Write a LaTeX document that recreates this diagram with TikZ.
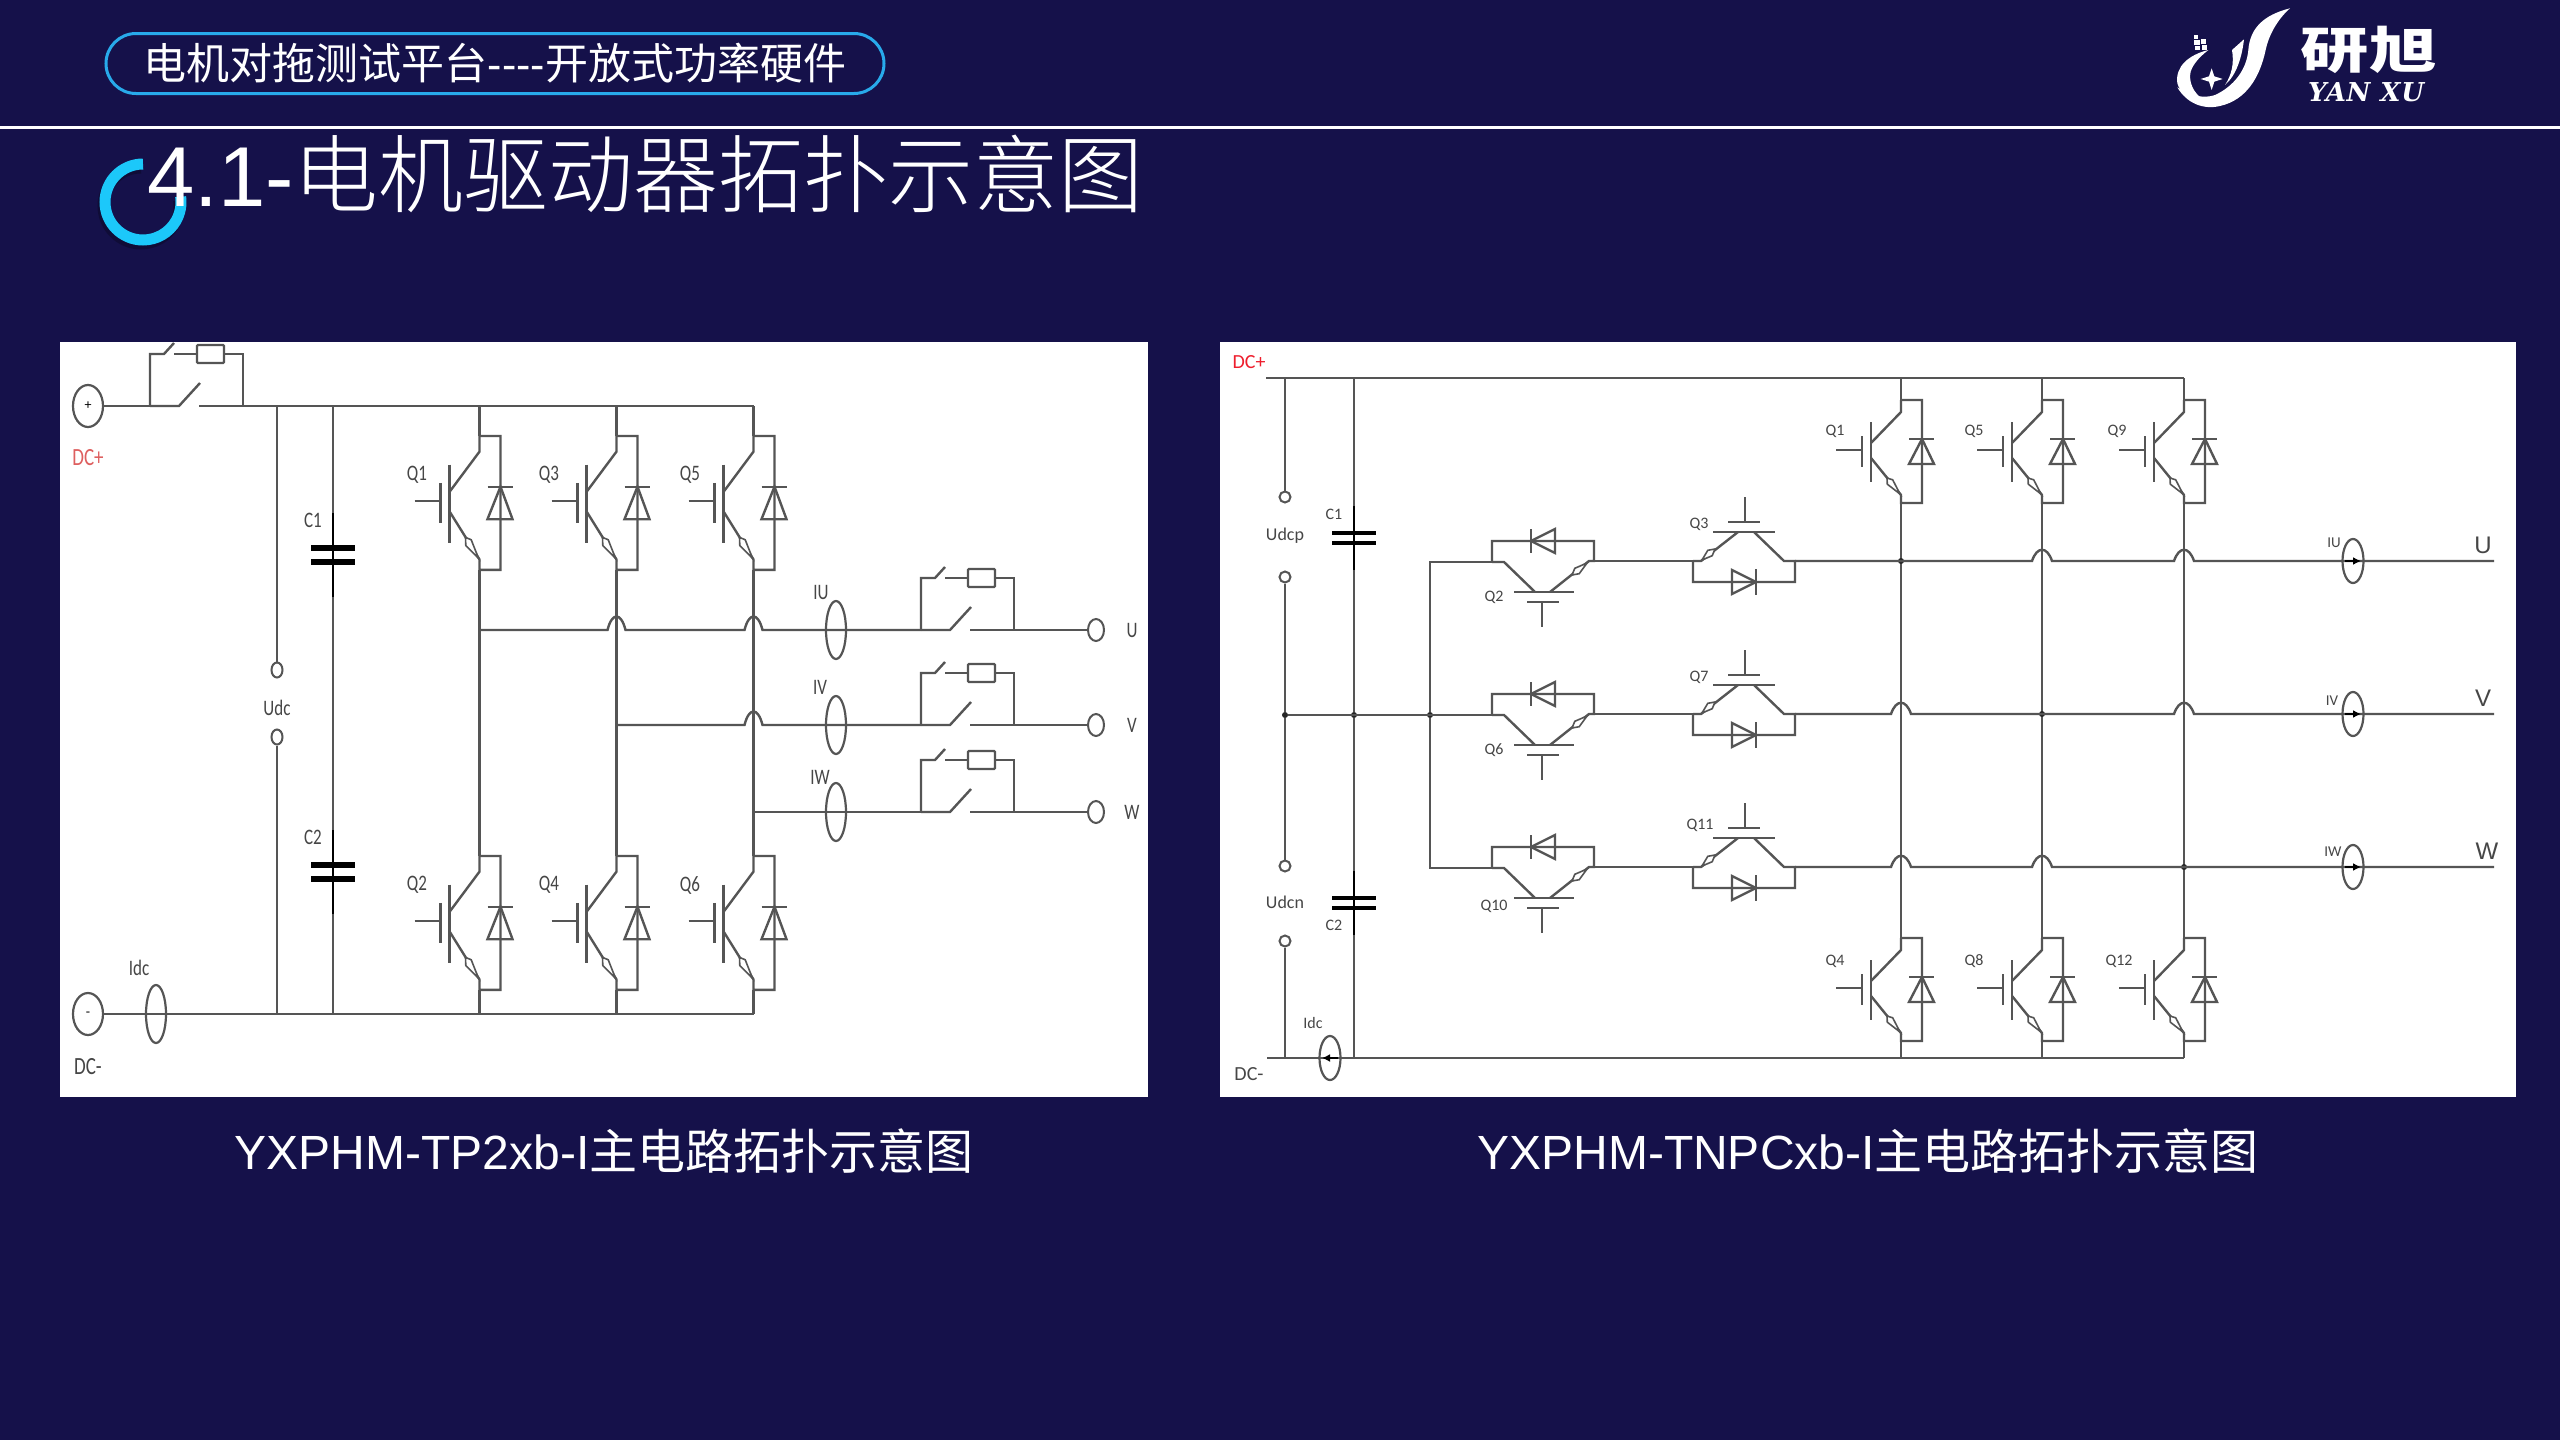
\documentclass[tikz,border=0pt]{standalone}
\usepackage{fontspec}
\setmainfont{Liberation Sans}
\newfontfamily\cjk{Noto Sans CJK SC}
\newfontfamily\cjklight[UprightFont={* Light}]{Noto Sans CJK SC}
\newfontfamily\labfont{Carlito}
\newfontfamily\logofont[LetterSpace=3]{DejaVu Serif}
\usetikzlibrary{arrows.meta, shapes.geometric, positioning}
\definecolor{navy}{RGB}{21,17,74}
\definecolor{ringblue}{RGB}{28,200,250}
\definecolor{tagblue}{RGB}{40,170,235}
\definecolor{wiregray}{RGB}{85,85,85}
\definecolor{labgray}{RGB}{70,70,70}
\definecolor{softred}{RGB}{222,95,95}
\definecolor{hardred}{RGB}{238,30,45}
\newcommand{\fs}[1]{\fontsize{#1}{#1}\selectfont}
\newcommand{\hop}[4]{-- (#1-#3,#2) .. controls (#1-#3/2,#2-#4) and (#1+#3/2,#2-#4) .. (#1+#3,#2)}
\tikzset{
	wire/.style={draw=wiregray, line width=2.4pt},
	lab/.style={font=\labfont\fs{17}, text=labgray, inner sep=0pt},
	tall/.style={yscale=1.3, transform shape},
	term/.style={draw=wiregray, line width=2.2pt, ellipse, fill=white, inner sep=0pt, minimum width=30pt, minimum height=42pt, font=\labfont\fs{14}, text=black},
	pin/.style={draw=wiregray, line width=2pt, ellipse, fill=white, inner sep=0pt, minimum width=11pt, minimum height=#1},
	ct/.style={draw=wiregray, line width=2.2pt, ellipse, inner sep=0pt, minimum width=20pt, minimum height=#1},
	dot/.style={circle, fill=black!85, inner sep=0pt, minimum size=6pt},
	sense/.style={draw=black, line width=2pt, -{Latex[length=8pt,width=8pt]}},
	caption/.style={text=white, font=\fs{48}, inner sep=0pt},
	pics/igbt/.style={code={
		\begin{scope}[yscale=#1]
		\coordinate (-c) at (0,0);
		\coordinate (-e) at (0,103);
		\draw[wire] (0,0) -- (21,0) -- (21,103) -- (0,103) -- (0,95) -- (-30,58);
		\draw[wire] (0,0) -- (0,12) -- (-30,43);
		\draw[wire] (-30,22) -- (-30,82);
		\draw[wire] (-39,36) -- (-39,67);
		\draw[wire] (-65,50) -- (-39,50);
		\draw[wire] (8,39) -- (33,39);
		\draw[wire] (21,39) -- (33,64) -- (8,64) -- cycle;
		\draw[wire, line width=1.6pt, fill=white] (-1,94) -- (-8.3,79.8) -- (-14,78) -- (-13.7,84.2) -- cycle;
		\end{scope}
	}},
	pics/igbtdown/.style={code={
		\coordinate (-l) at (0,0);
		\coordinate (-r) at (102,-1);
		\draw[wire] (0,0) -- (0,-21) -- (102,-21) -- (102,-1) -- (97,-1) -- (58,30);
		\draw[wire] (0,0) -- (12,0) -- (43,30);
		\draw[wire] (22,30) -- (82,30);
		\draw[wire] (35,40) -- (67,40);
		\draw[wire] (50,40) -- (50,65);
		\draw[wire] (39,-33) -- (39,-9);
		\draw[wire] (39,-21) -- (63,-33) -- (63,-9) -- cycle;
		\draw[wire, line width=1.6pt, fill=white] (95,1) -- (87.2,11.7) -- (80,13) -- (82.8,6.3) -- cycle;
	}},
	pics/igbtup/.style={code={
		\coordinate (-l) at (0,0);
		\coordinate (-r) at (102,0);
		\draw[wire] (0,0) -- (0,21) -- (102,21) -- (102,0) -- (91,0) -- (61,-29);
		\draw[wire] (0,0) -- (8,0) -- (45,-29);
		\draw[wire] (20,-29) -- (82,-29);
		\draw[wire] (35,-39) -- (67,-39);
		\draw[wire] (52,-39) -- (52,-64);
		\draw[wire] (63,8) -- (63,34);
		\draw[wire] (39,9) -- (63,21) -- (39,33) -- cycle;
		\draw[wire, line width=1.6pt, fill=white] (9,-1) -- (14.8,-10.7) -- (22,-12) -- (19.2,-5.3) -- cycle;
	}},
	pics/capv/.style={code={
		\begin{scope}[yscale=#1]
		\coordinate (-a) at (0,-32);
		\coordinate (-b) at (0,32);
		\draw[line width=2.6pt, black] (0,-32) -- (0,32);
		\fill[black] (-22,-7.4) rectangle (22,-3);
		\fill[black] (-22,3) rectangle (22,7.4);
		\end{scope}
	}},
	pics/swres/.style={code={
		\coordinate (-a) at (0,0);
		\coordinate (-b) at (93,0);
		\draw[wire] (0,0) -- (29,0) -- (50,-23);
		\draw[wire] (49,0) -- (93,0) -- (93,-52) -- (74,-52);
		\draw[wire] (0,0) -- (0,-52) -- (14,-52) -- (24,-63);
		\draw[wire] (24,-52) -- (47,-52);
		\draw[wire, rounded corners=1pt] (47,-61) rectangle (74,-43);
	}}
}
\begin{document}
\begin{tikzpicture}[x=1pt,y=-1pt,on grid]
\useasboundingbox (0,0) rectangle (2560,1440);
\fill[navy] (0,0) rectangle (2560,1440);
\fill[white] (60,342) rectangle (1148,1097);
\fill[white] (1220,342) rectangle (2516,1097);

% header
\draw[white, line width=3pt] (0,127) -- (2560,127);
\node[draw=tagblue, line width=3pt, rounded corners=30pt, minimum width=778pt, minimum height=60pt, text=white, font=\fs{43}, inner sep=0pt] (tag) at (495,63.5) {{\cjk 电机对拖测试平台}-{}-{}-{}-{\cjk 开放式功率硬件}};
\draw[black, opacity=.25, line width=11pt] (141,168) arc[start angle=90, end angle=368, x radius=38, y radius=-38];
\draw[ringblue, line width=11pt] (143,164) arc[start angle=90, end angle=368, x radius=38, y radius=-38];
\node[text=white, font=\fs{85}, anchor=west, inner sep=0pt] (title) at (147,174) {4.1-{\cjklight 电机驱动器拓扑示意图}};

% logo
\begin{scope}[shift={(2100,0)},x=0.3333pt,y=-0.3333pt]
\fill[white] (570,25) .. controls (490,45) and (450,85) .. (445,150) .. controls (440,210) and (400,260) .. (345,285) .. controls (300,300) and (265,280) .. (232,262) .. controls (260,310) and (310,330) .. (360,318) .. controls (440,300) and (480,230) .. (497,150) .. controls (505,110) and (530,60) .. (570,25) -- cycle;
\fill[white] (325,150) .. controls (265,165) and (225,200) .. (232,250) .. controls (240,280) and (270,295) .. (310,298) .. controls (280,280) and (265,245) .. (272,215) .. controls (280,190) and (300,170) .. (325,150) -- cycle;
\fill[white] (432,118) -- (396,150) .. controls (403,190) and (395,225) .. (375,255) .. controls (410,225) and (426,170) .. (432,118) -- cycle;
\fill[white] (335,205) -- (343,229) -- (368,237) -- (343,245) -- (335,270) -- (327,245) -- (302,237) -- (327,229) -- cycle;
\fill[white] (283,120) rectangle (299,134);
\fill[white] (303,118) rectangle (318,132);
\fill[white] (286,137) rectangle (301,151);
\fill[white] (305,135) rectangle (322,149);
\fill[white] (281,105) rectangle (294,117);
\end{scope}
\node[text=white, font=\cjk\bfseries\fs{62}, inner sep=0pt, xscale=1.1, yscale=.8, transform shape] (logocn) at (2369,50) {研旭};
\node[text=white, font=\logofont\bfseries\itshape\fs{26}, inner sep=0pt] (logoen) at (2366,92) {YAN XU};

% left circuit
\node[term] (dcp) at (88,406) {+};
\node[term] (dcm) at (88,1014) {-};
\node[lab, font=\labfont\fs{19}, tall, text=softred, below=52pt of dcp] (dcpl) {DC+};
\node[lab, font=\labfont\fs{19}, tall, below=53pt of dcm] (dcml) {DC-};
\pic (SD) at (150,406) {swres};
\coordinate (pe) at (753.5,406);
\coordinate (me) at (753.5,1014);
\path[wire] (dcp) edge (SD-a)
	(SD-b) edge (pe)
	(dcm) edge (me);

\node[pin=15pt] (udc1) at (277,670) {};
\node[pin=15pt] (udc2) at (277,737) {};
\node[lab, tall] (udcl) at (277,708) {Udc};
\path[wire] (udc1 |- pe) edge (udc1)
	(udc2) edge (udc2 |- me);
\pic (C1) at (333,555) {capv=1.3};
\pic (C2) at (333,872) {capv=1.3};
\path[wire] (C1-a |- pe) edge (C1-a)
	(C1-b) edge (C2-a)
	(C2-b) edge (C2-b |- me);
\node[lab, tall] (c1l) at (313,520) {C1};
\node[lab, tall] (c2l) at (313,837) {C2};

\pic (Q1) at (479.5,436) {igbt=1.3};
\pic (Q3) at (616.5,436) {igbt=1.3};
\pic (Q5) at (753.5,436) {igbt=1.3};
\pic (Q2) at (479.5,856) {igbt=1.3};
\pic (Q4) at (616.5,856) {igbt=1.3};
\pic (Q6) at (753.5,856) {igbt=1.3};
\path[wire] (Q1-c) edge (Q1-c |- pe)
	(Q3-c) edge (Q3-c |- pe)
	(Q5-c) edge (pe)
	(Q1-e) edge (Q2-c)
	(Q3-e) edge (Q4-c)
	(Q5-e) edge (Q6-c)
	(Q2-e) edge (Q2-e |- me)
	(Q4-e) edge (Q4-e |- me)
	(Q6-e) edge (me);
\node[lab, tall] (q1l) at (417,475) {Q1};
\node[lab, tall] (q3l) at (549,475) {Q3};
\node[lab, tall] (q5l) at (690,475) {Q5};
\node[lab, tall] (q2l) at (417,885) {Q2};
\node[lab, tall] (q4l) at (549,885) {Q4};
\node[lab, tall] (q6l) at (690,885) {Q6};

\node[ct=58pt] (idcl) at (156,1014) {};
\node[lab, tall] (idcn) at (139,968) {Idc};

\coordinate (lu0) at (479.5,630);
\coordinate (lv0) at (616.5,725);
\coordinate (lw0) at (753.5,812);
\pic (SU) at (921,630) {swres};
\pic (SV) at (921,725) {swres};
\pic (SW) at (921,812) {swres};
\node[pin=22pt, minimum width=16pt] (ut1) at (1096,630) {};
\node[pin=22pt, minimum width=16pt] (vt1) at (1096,725) {};
\node[pin=22pt, minimum width=16pt] (wt1) at (1096,812) {};
\node[lab, tall, right=36pt of ut1] (ut1l) {U};
\node[lab, tall, right=36pt of vt1] (vt1l) {V};
\node[lab, tall, right=36pt of wt1] (wt1l) {W};
\draw[wire] (lu0) \hop{616.5}{630}{9}{18} \hop{753.5}{630}{9}{18} -- (SU-a);
\draw[wire] (lv0) \hop{753.5}{725}{9}{18} -- (SV-a);
\draw[wire] (lw0) -- (SW-a);
\path[wire] (SU-b) edge (ut1)
	(SV-b) edge (vt1)
	(SW-b) edge (wt1);
\node[ct=58pt] (iu1) at (836,630) {};
\node[ct=58pt] (iv1) at (836,725) {};
\node[ct=58pt] (iw1) at (836,812) {};
\node[lab, tall] (iu1l) at (821,592) {IU};
\node[lab, tall] (iv1l) at (820,687) {IV};
\node[lab, tall] (iw1l) at (820,777) {IW};

% right circuit
\coordinate (ps) at (1266,378);
\coordinate (pr) at (2184,378);
\coordinate (ms) at (1267,1058);
\coordinate (mr) at (2184,1058);
\node[lab, font=\labfont\fs{20}, text=hardred] (dcpr) at (1249,362) {DC+};
\node[lab, font=\labfont\fs{20}] (dcmr) at (1249,1074) {DC-};
\path[wire] (ps) edge (pr)
	(ms) edge (mr);

\node[dot] (n1) at (1285,715) {};
\node[dot] (n2) at (1354,715) {};
\node[dot] (n3) at (1430,715) {};
\node[pin=11pt] (up1) at (1285,497) {};
\node[pin=11pt] (up2) at (1285,577) {};
\node[pin=11pt] (un1) at (1285,866) {};
\node[pin=11pt] (un2) at (1285,941) {};
\node[lab, font=\labfont\fs{18}] (upl) at (1285,536) {Udcp};
\node[lab, font=\labfont\fs{18}] (unl) at (1285,902) {Udcn};
\path[wire] (up1 |- ps) edge (up1)
	(up2) edge (n1)
	(n1) edge (un1)
	(un2) edge (un2 |- ms);
\pic (C1r) at (1354,538) {capv=1};
\pic (C2r) at (1354,903) {capv=1};
\path[wire] (C1r-a |- ps) edge (C1r-a)
	(C1r-b) edge (n2)
	(n2) edge (C2r-a)
	(C2r-b) edge (C2r-b |- ms);
\node[lab, font=\labfont\fs{16}] (c1rl) at (1334,514) {C1};
\node[lab, font=\labfont\fs{16}] (c2rl) at (1334,925) {C2};

\pic (T2) at (1492,562) {igbtdown};
\pic (T6) at (1492,715) {igbtdown};
\pic (T10) at (1492,868) {igbtdown};
\pic (T3) at (1693,561) {igbtup};
\pic (T7) at (1693,714) {igbtup};
\pic (T11) at (1693,867) {igbtup};
\node[lab, font=\labfont\fs{16}] (t2l) at (1494,597) {Q2};
\node[lab, font=\labfont\fs{16}] (t6l) at (1494,750) {Q6};
\node[lab, font=\labfont\fs{16}] (t10l) at (1494,906) {Q10};
\node[lab, font=\labfont\fs{16}] (t3l) at (1699,524) {Q3};
\node[lab, font=\labfont\fs{16}] (t7l) at (1699,677) {Q7};
\node[lab, font=\labfont\fs{16}] (t11l) at (1700,825) {Q11};
\draw[wire] (T2-l) -| (n3) -- (n3 |- T10-l) -- (T10-l);
\path[wire] (n1) edge (T6-l)
	(T2-r) edge (T3-l)
	(T6-r) edge (T7-l)
	(T10-r) edge (T11-l);

\pic (T1) at (1901,400) {igbt=1};
\pic (T5) at (2042,400) {igbt=1};
\pic (T9) at (2184,400) {igbt=1};
\pic (T4) at (1901,938) {igbt=1};
\pic (T8) at (2042,938) {igbt=1};
\pic (T12) at (2184,938) {igbt=1};
\path[wire] (T1-c) edge (T1-c |- ps)
	(T5-c) edge (T5-c |- ps)
	(T9-c) edge (pr)
	(T1-e) edge (T4-c)
	(T5-e) edge (T8-c)
	(T9-e) edge (T12-c)
	(T4-e) edge (T4-e |- ms)
	(T8-e) edge (T8-e |- ms)
	(T12-e) edge (mr);
\node[lab, font=\labfont\fs{16}] (t1l) at (1835,431) {Q1};
\node[lab, font=\labfont\fs{16}] (t5l) at (1974,431) {Q5};
\node[lab, font=\labfont\fs{16}] (t9l) at (2117,431) {Q9};
\node[lab, font=\labfont\fs{16}] (t4l) at (1835,961) {Q4};
\node[lab, font=\labfont\fs{16}] (t8l) at (1974,961) {Q8};
\node[lab, font=\labfont\fs{16}] (t12l) at (2119,961) {Q12};

\node[dot] (du) at (1901,561) {};
\node[dot] (dv) at (2042,714) {};
\node[dot] (dw) at (2184,867) {};
\coordinate (ut2) at (2494,561);
\coordinate (vt2) at (2494,714);
\coordinate (wt2) at (2494,867);
\draw[wire] (T3-r) \hop{2042}{561}{10}{15} \hop{2184}{561}{10}{15} -- (ut2);
\draw[wire] (T7-r) \hop{1901}{714}{10}{15} \hop{2184}{714}{10}{15} -- (vt2);
\draw[wire] (T11-r) \hop{1901}{867}{10}{15} \hop{2042}{867}{10}{15} -- (wt2);

\node[ct=44pt, minimum width=21pt] (iu2) at (2353,561) {};
\node[ct=44pt, minimum width=21pt] (iv2) at (2353,714) {};
\node[ct=44pt, minimum width=21pt] (iw2) at (2353,867) {};
\node[ct=44pt, minimum width=21pt] (idcr) at (1330,1058) {};
\draw[sense] (iu2.center) ++(-8,0) -- ++(16,0);
\draw[sense] (iv2.center) ++(-8,0) -- ++(16,0);
\draw[sense] (iw2.center) ++(-8,0) -- ++(16,0);
\draw[sense] (idcr.center) ++(8,0) -- ++(-16,0);
\node[lab, font=\labfont\fs{15}] (iu2l) at (2334,543) {IU};
\node[lab, font=\labfont\fs{15}] (iv2l) at (2332,701) {IV};
\node[lab, font=\labfont\fs{15}] (iw2l) at (2333,852) {IW};
\node[lab, font=\labfont\fs{16}] (idcrl) at (1313,1023) {Idc};
\node[lab, font=\fs{24}] (ut2l) at (2483,545) {U};
\node[lab, font=\fs{24}] (vt2l) at (2483,698) {V};
\node[lab, font=\fs{24}] (wt2l) at (2487,851) {W};

% captions
\node[caption] (capa) at (604,1151) {YXPHM-TP2xb-I{\cjk 主电路拓扑示意图}};
\node[caption] (capb) at (1868,1151) {YXPHM-TNPCxb-I{\cjk 主电路拓扑示意图}};
\end{tikzpicture}
\end{document}
